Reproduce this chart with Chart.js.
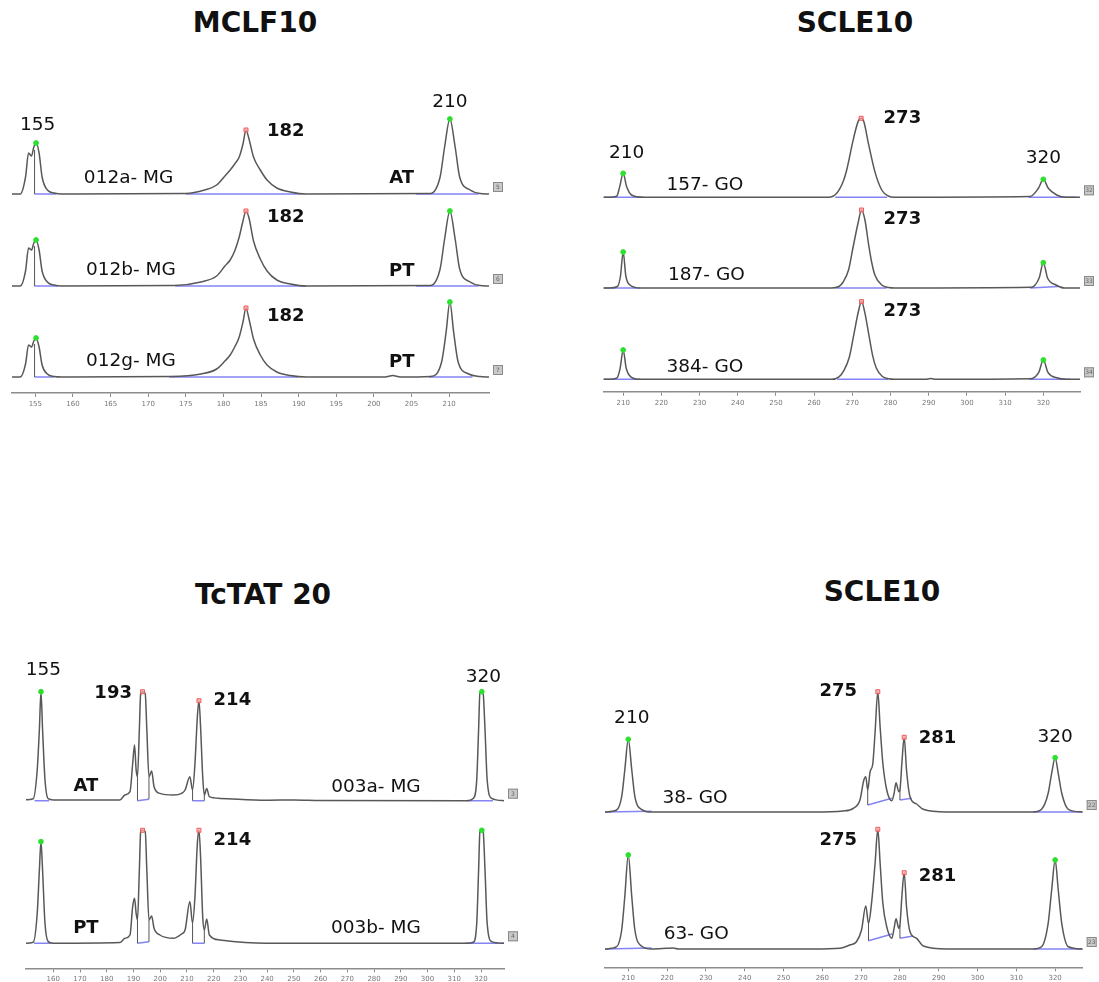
<!DOCTYPE html>
<html>
<head>
<meta charset="utf-8">
<script src="https://cdn.jsdelivr.net/npm/chart.js@4.4.1/dist/chart.umd.min.js"></script>
<style>
  body { margin: 0; background: #fff; width: 1099px; height: 982px; position: relative; overflow: hidden; }
  .title { position: absolute; font: bold 28px "DejaVu Sans", sans-serif; color: #111;
           transform: translate(-50%, -50%); white-space: nowrap; }
  canvas { position: absolute; }
</style>
</head>
<body>
<div class="title" style="left:255px;top:22px">MCLF10</div>
<div class="title" style="left:855px;top:22px">SCLE10</div>
<div class="title" style="left:263px;top:594px">TcTAT 20</div>
<div class="title" style="left:882px;top:591px">SCLE10</div>

<canvas id="p1" width="510" height="340" style="left:0;top:80px"></canvas>
<canvas id="p2" width="519" height="330" style="left:580px;top:90px"></canvas>
<canvas id="p3" width="520" height="352" style="left:0;top:630px"></canvas>
<canvas id="p4" width="519" height="352" style="left:580px;top:630px"></canvas>

<script>
// ---------------------------------------------------------------
// Données lues sur les électrophorégrammes (x = taille en pb, y = signal)

// MCLF10
const p1Ticks = [155, 160, 165, 170, 175, 180, 185, 190, 195, 200, 205, 210];
const p1Boxes = ['5', '6', '7'];
const p1a = [[151.9,0],[153.0,0],[153.7,17],[154.1,41],[154.5,38],[154.8,47],[155.1,51],[155.5,41],[155.9,17],[156.6,4],[157.5,1],[158.5,0],
  [175,0.5],[177.5,4],[179.1,9],[180.2,18],[180.9,24],[181.5,30],[182.1,37],[182.6,50],[183.0,64],[183.4,55],[184.0,37],[184.9,24],[185.8,14],[187.1,6],[188.9,2],[191,0],
  [207.5,0.5],[208.8,17],[209.4,47],[210.1,75],[210.8,47],[211.4,17],[212.8,4],[214.1,0.5],[215.3,0]];
const p1b = [[151.9,0],[153.0,0],[153.7,15],[154.1,38],[154.5,36],[154.8,43],[155.1,46],[155.5,36],[155.9,15],[156.6,4],[157.5,1],[158.5,0],
  [173.5,0.5],[177,4],[179.1,10],[180.2,20],[180.9,26],[181.5,35],[182.1,49],[182.6,65],[183.0,75],[183.4,68],[184.0,45],[184.9,27],[185.8,15],[187.1,6],[188.9,2],[191,0],
  [207.5,0.5],[208.8,17],[209.4,47],[210.1,75],[210.8,47],[211.4,17],[212.8,4],[214.1,0.5],[215.3,0]];
const p1g = [[151.9,0],[153.0,0],[153.7,13],[154.1,32],[154.5,30],[154.8,36],[155.1,39],[155.5,30],[155.9,12],[156.6,3],[157.5,0.5],[158.5,0],
  [173,0.5],[177,3],[179.1,8],[180.2,16],[180.9,22],[181.5,30],[182.1,40],[182.6,55],[183.0,69],[183.4,58],[184.0,38],[184.9,22],[185.8,12],[187.1,5],[188.9,1.5],[191,0],
  [201.5,0],[202.5,1.5],[203.5,0],[207.5,0.5],[209.0,15],[209.6,45],[210.1,75],[210.6,45],[211.2,15],[212.6,3],[214.1,0.5],[215.3,0]];
const p1aPeaks = [[155.1,51,'ref'],[183.0,64,'allele'],[210.1,75,'ref']];
const p1bPeaks = [[155.1,46,'ref'],[183.0,75,'allele'],[210.1,75,'ref']];
const p1gPeaks = [[155.1,39,'ref'],[183.0,69,'allele'],[210.1,75,'ref']];
const p1aBase = [[154.9,0,157.8,0],[175,0,190.3,0],[205.6,0,213.9,0]];
const p1bBase = [[154.9,0,158,0],[173.6,0,191,0],[205.6,0,213.9,0]];
const p1gBase = [[154.9,0,157.5,0],[172.8,0,189.9,0],[207.3,0,213.1,0]];
const p1aDrops = [[154.9,0,44]];
const p1bDrops = [[154.9,0,40]];
const p1gDrops = [[154.9,0,33]];
const p1Notes = [
  ['155', 155.3, 268, false], ['182', 188.3, 262, true], ['210', 210.1, 290.7, false],
  ['012a- MG', 167.4, 214.7, false], ['AT', 203.7, 214.7, true],
  ['182', 188.3, 175.7, true], ['012b- MG', 167.7, 123, false], ['PT', 203.7, 121.3, true],
  ['182', 188.3, 76.3, true], ['012g- MG', 167.7, 32, false], ['PT', 203.7, 30.3, true]
];

// SCLE10 (haut)
const p2Ticks = [210, 220, 230, 240, 250, 260, 270, 280, 290, 300, 310, 320];
const p2Boxes = ['32', '33', '34'];
const p2a = [[204.8,0],[206.5,0],[208.3,1],[209.1,10.7],[210,24],[210.9,10.7],[212.2,2.3],[215.2,0],
  [263.8,0],[265.9,4],[267.6,15.7],[268.5,27],[270.2,57],[271.5,75.7],[272.3,79],[273.0,75.7],[274.2,54],[275.9,25.7],[277.7,7.3],[279.4,1.3],[281,0],
  [316.5,0.7],[318.7,9],[320,18],[321.3,9],[323.5,2.3],[326,0],[329.6,0]];
const p2b = [[204.8,0],[206.5,0],[208.5,1.5],[209.3,12],[210,36],[210.7,12],[211.8,3],[214.5,0],
  [264.5,0],[266.5,1.5],[267.6,6],[269,18],[270.2,41],[271.5,65],[272.4,78],[273.3,68],[274.2,45],[275.1,25],[275.9,13],[277.7,3],[279.5,0.5],[281,0],
  [316.8,0.7],[318.9,10],[320,25.3],[321.1,10],[323.3,3],[325.5,0],[329.6,0]];
const p2c = [[204.8,0],[206.5,0],[208.4,1.5],[209.2,11],[210,29.3],[210.8,11],[212,2.5],[214.5,0],
  [264.5,0],[266.5,2.5],[267.8,9],[269.2,22],[270.4,45],[271.6,68],[272.4,77.7],[273.2,68],[274.3,45],[275.3,24],[276.3,11],[277.8,3],[279.5,0.5],[281,0],
  [289,0],[290.5,0.8],[292,0],[316.5,0.5],[318.8,7],[320,19.3],[321.2,7],[323.5,1.5],[326,0],[329.6,0]];
const p2aPeaks = [[210,24,'ref'],[272.3,79,'allele'],[320,18,'ref']];
const p2bPeaks = [[210,36,'ref'],[272.4,78,'allele'],[320,25.3,'ref']];
const p2cPeaks = [[210,29.3,'ref'],[272.4,77.7,'allele'],[320,19.3,'ref']];
const p2aBase = [[205,0,215.4,0],[265.5,0,279.1,0],[316.1,0,328.7,0]];
const p2bBase = [[205,0,214.5,0],[265.8,0,279,0],[316.5,0,323.9,1.5]];
const p2cBase = [[205,0,214.5,0],[266,0,279.4,0],[316.3,0,327,0]];
const p2Notes = [
  ['210', 210.9, 238.4, false], ['273', 283.1, 273.4, true], ['320', 320, 233.4, false],
  ['157- GO', 231.4, 206.7, false],
  ['273', 283.1, 172.4, true], ['187- GO', 231.8, 116.7, false],
  ['273', 283.1, 80, true], ['384- GO', 231.4, 25, false]
];

// TcTAT 20
const p3Ticks = [160, 170, 180, 190, 200, 210, 220, 230, 240, 250, 260, 270, 280, 290, 300, 310, 320];
const p3Boxes = ['3', '4'];
const p3a = [[149.8,1],[152.5,2],[154.0,31],[154.8,71],[155.4,109],[156.0,71],[156.9,21],[158.1,2],[160,0.7],
  [184.9,0.7],[186.8,5.7],[188.7,9],[189.7,37],[190.4,55.7],[191.0,30.7],[191.5,24],[192.2,71],[192.7,107],[193.4,109],[194.4,107],[195.0,71],[195.8,24],
  [196.8,29.7],[197.7,14],[199.9,7.3],[204.9,5.7],[208.0,7.3],[209.3,10.7],[211.1,24],[212.1,10.7],[213.0,37],[213.9,84],[214.5,100],[215.1,74],[215.9,24],
  [216.5,5.7],[217.4,12.3],[218.4,4],[222.3,2.3],[239.8,0.5],[250,0.8],[260,0.3],[314.6,0],
  [317.1,2.3],[318.4,21],[319.1,71],[319.6,108],[320.3,109],[320.8,107],[321.5,71],[322.3,21],[324.0,2.3],[328.6,0]];
const p3b = [[149.8,0],[152.5,1],[154.0,30],[154.8,73],[155.4,101.7],[156.0,73],[156.9,20],[158.1,1.7],[160,0],
  [184.9,0.7],[186.8,5],[188.7,8.3],[189.7,36.7],[190.4,45],[191.0,30],[191.5,23.3],[192.2,73],[192.7,111.7],[193.4,113],[194.4,111.7],[195.0,73],[195.8,23.3],
  [196.8,27.3],[197.7,15],[199.9,8.3],[204.9,5],[208.0,9.3],[209.3,13.3],[211.1,41.7],[212.1,20],[213.0,46.7],[213.9,100],[214.5,113],[215.1,86.7],[215.9,26.7],
  [216.5,13.3],[217.4,24.3],[218.4,8.3],[222.3,3.3],[239.8,0],[314.6,0],
  [317.1,1],[318.4,20],[319.1,73],[319.6,111.7],[320.3,113],[320.8,111.7],[321.5,73],[322.3,20],[324.0,1.7],[328.6,0]];
const p3aPeaks = [[155.4,109,'ref'],[193.4,109,'allele'],[214.5,100,'allele'],[320.3,109,'ref']];
const p3bPeaks = [[155.4,101.7,'ref'],[193.4,113,'allele'],[214.5,113,'allele'],[320.3,113,'ref']];
const p3aBase = [[153.0,0,158.5,0],[191.5,0,195.8,1.5],[212.1,0,216.5,0],[314.6,0,324.5,0]];
const p3bBase = [[152.8,0,158.7,0],[191.5,0,195.8,1.5],[212.1,0,216.5,0],[314,0,328.6,0]];
const p3aDrops = [[191.5,0,24],[195.8,1.5,24],[212.1,0,10.7],[216.5,0,5.7]];
const p3bDrops = [[191.5,0,23.3],[195.8,1.5,23.3],[212.1,0,20],[216.5,0,13.3]];
const p3Notes = [
  ['155', 156.3, 298.3, false], ['193', 182.4, 275, true], ['214', 227.0, 267.6, true], ['320', 320.9, 291.6, false],
  ['AT', 172.2, 181.6, true], ['003a- MG', 280.7, 181.6, false],
  ['214', 227.0, 128.3, true], ['PT', 172.2, 40, true], ['003b- MG', 280.7, 40, false]
];

// SCLE10 (bas)
const p4Ticks = [210, 220, 230, 240, 250, 260, 270, 280, 290, 300, 310, 320];
const p4Boxes = ['22', '23'];
const p4a = [[204.0,0],[207.0,2],[208.3,15.3],[209.1,42],[210,72.7],[210.9,42],[211.7,15.3],[213.4,2.7],[216,0],
  [257.7,0],[265.4,1],[268.0,3.7],[269.7,12],[270.7,32],[271.2,35.3],[271.7,22],[272.3,40],[273.0,48],[273.6,80],[274.3,120.3],[274.9,85],[275.6,48.7],
  [276.6,22],[277.9,11.3],[278.5,18.7],[279.0,29.3],[279.7,20.3],[280.0,22],[280.5,48.7],[281.1,74.7],[281.7,42],[282.6,15.3],[284.3,8],[286.0,2.7],[292,0],
  [314.4,0],[316.5,2.7],[318.2,18.7],[319.1,38.7],[320,54.3],[320.8,38.7],[321.7,18.7],[323.4,2.7],[327.1,0]];
const p4b = [[204.0,0],[207.0,2.3],[208.3,19],[209.1,52.3],[210,94],[210.9,52.3],[211.7,19],[213.4,3],[216,0],[220,0.7],[221.5,1],[223,0],
  [257.7,0],[264.6,0.7],[267.1,4],[268.8,7.3],[270.1,19],[271.2,43],[271.9,25.7],[272.7,46.3],[273.6,85.7],[274.3,119.7],[274.9,85.7],[275.6,45.7],
  [276.6,22.3],[277.9,10.7],[278.5,20.7],[279.0,30.3],[279.7,20.7],[280.0,24],[280.5,52.3],[281.1,76.3],[281.7,42.3],[282.6,17.3],[284.3,10.7],[286.0,3],[292,0],
  [314.4,0],[316.5,2.3],[318.2,25.7],[319.1,59],[320,89],[320.8,59],[321.7,25.7],[323.4,2.3],[327.1,0]];
const p4aPeaks = [[210,72.7,'ref'],[274.3,120.3,'allele'],[281.1,74.7,'allele'],[320,54.3,'ref']];
const p4bPeaks = [[210,94,'ref'],[274.3,119.7,'allele'],[281.1,76.3,'allele'],[320,89,'ref']];
const p4aBase = [[204,0,216,0.7],[271.7,7,277.9,13.7],[280.0,12,283.0,13.7],[314.4,0,327.1,0]];
const p4bBase = [[204,0,216,1],[271.9,8.3,278.0,15],[280.0,10.7,283.4,13],[314.4,0,327.1,0]];
const p4aDrops = [[271.7,7,22],[280.0,12,22]];
const p4bDrops = [[271.9,8.3,25.7],[280.0,10.7,24]];
const p4Notes = [
  ['210', 210.9, 249, false], ['275', 264.1, 275.6, true], ['281', 289.7, 229, true], ['320', 320, 230, false],
  ['38- GO', 227.2, 169, false],
  ['275', 264.1, 127.3, true], ['281', 289.7, 90.6, true], ['63- GO', 227.5, 33.3, false]
];

// ---------------------------------------------------------------
const FONT = '"DejaVu Sans", Verdana, sans-serif';

// textes (tailles, noms d'échantillons) et petites cases numérotées
function annotations(notes, boxes, offsets) {
  return {
    id: 'annotations',
    afterDraw(chart) {
      const { ctx, scales: { x, y }, chartArea } = chart;
      ctx.save();
      ctx.textAlign = 'center';
      ctx.textBaseline = 'middle';
      notes.forEach(([txt, px, py, bold]) => {
        ctx.fillStyle = '#111';
        ctx.font = (bold ? 'bold 18px ' : '18.5px ') + FONT;
        ctx.fillText(txt, x.getPixelForValue(px), y.getPixelForValue(py));
      });
      boxes.forEach((b, i) => {
        const bx = chartArea.right + 4, by = y.getPixelForValue(offsets[i]) - 12;
        ctx.fillStyle = '#c9c9c9';
        ctx.fillRect(bx, by, 10, 10);
        ctx.strokeStyle = '#8a8a8a';
        ctx.lineWidth = 1;
        ctx.strokeRect(bx + 0.5, by + 0.5, 9, 9);
        ctx.fillStyle = '#666';
        ctx.font = '6px ' + FONT;
        ctx.fillText(b, bx + 5, by + 5.5);
      });
      ctx.restore();
    }
  };
}

function buildPanel(id, cfg) {
  const canvas = document.getElementById(id);
  const yMax = canvas.height - cfg.pad.top - cfg.pad.bottom - cfg.axisH;
  const datasets = [];

  cfg.traces.forEach((t, i) => {
    const off = cfg.offsets[i];

    // lignes de base bleues sous les pics
    const basePts = [];
    t.base.forEach(b => {
      basePts.push({ x: b[0], y: b[1] + off }, { x: b[2], y: b[3] + off }, { x: b[2] + 0.01, y: null });
    });
    datasets.push({ data: basePts, borderColor: '#8484f4', borderWidth: 1.5, pointRadius: 0, spanGaps: false, order: 3 });

    // traits verticaux de séparation
    const dropPts = [];
    (t.drops || []).forEach(d => {
      dropPts.push({ x: d[0], y: d[1] + off }, { x: d[0], y: d[2] + off }, { x: d[0] + 0.01, y: null });
    });
    if (dropPts.length) {
      datasets.push({ data: dropPts, borderColor: '#555', borderWidth: 1, pointRadius: 0, spanGaps: false, order: 2 });
    }

    // le signal
    datasets.push({
      data: t.pts.map(p => ({ x: p[0], y: p[1] + off })),
      borderColor: '#585858', borderWidth: 1.5, pointRadius: 0,
      cubicInterpolationMode: 'monotone', order: 1
    });

    // marqueurs des pics
    datasets.push({
      data: t.peaks.map(p => ({ x: p[0], y: p[1] + off })),
      showLine: false,
      pointStyle: t.peaks.map(p => p[2] === 'ref' ? 'circle' : 'rect'),
      pointRadius: t.peaks.map(p => p[2] === 'ref' ? 2.4 : 2.8),
      pointBackgroundColor: t.peaks.map(p => p[2] === 'ref' ? '#2ee02e' : 'rgba(255,170,170,0.7)'),
      pointBorderColor: t.peaks.map(p => p[2] === 'ref' ? '#2ee02e' : '#ef5a5a'),
      pointBorderWidth: 1,
      order: 0
    });
  });

  return new Chart(canvas, {
    type: 'line',
    data: { datasets },
    options: {
      responsive: false,
      animation: false,
      events: [],
      layout: { padding: cfg.pad },
      plugins: { legend: { display: false }, tooltip: { enabled: false } },
      scales: {
        x: {
          type: 'linear',
          min: cfg.xMin,
          max: cfg.xMax,
          afterBuildTicks: s => { s.ticks = cfg.ticks.map(v => ({ value: v })); },
          afterFit: s => { s.height = cfg.axisH; },
          grid: { drawOnChartArea: false, drawTicks: true, tickLength: 4, color: '#888', lineWidth: 1 },
          border: { display: true, color: '#8c8c8c', width: 1.6 },
          ticks: { font: { size: 7, family: FONT }, color: '#777', padding: 3, maxRotation: 0, autoSkip: false }
        },
        y: { display: false, min: 0, max: yMax }
      }
    },
    plugins: [annotations(cfg.notes, cfg.boxes, cfg.offsets)]
  });
}

buildPanel('p1', {
  xMin: 151.9, xMax: 215.3, ticks: p1Ticks, axisH: 20,
  pad: { left: 12, right: 21, top: 10, bottom: 7 },
  offsets: [199, 107, 16],
  traces: [
    { pts: p1a, peaks: p1aPeaks, base: p1aBase, drops: p1aDrops },
    { pts: p1b, peaks: p1bPeaks, base: p1bBase, drops: p1bDrops },
    { pts: p1g, peaks: p1gPeaks, base: p1gBase, drops: p1gDrops }
  ],
  notes: p1Notes, boxes: p1Boxes
});

buildPanel('p2', {
  xMin: 204.8, xMax: 329.6, ticks: p2Ticks, axisH: 20,
  pad: { left: 23.3, right: 19, top: 10, bottom: 8.3 },
  offsets: [194.4, 103.7, 12.4],
  traces: [
    { pts: p2a, peaks: p2aPeaks, base: p2aBase },
    { pts: p2b, peaks: p2bPeaks, base: p2bBase },
    { pts: p2c, peaks: p2cPeaks, base: p2cBase }
  ],
  notes: p2Notes, boxes: p2Boxes
});

buildPanel('p3', {
  xMin: 149.8, xMax: 328.6, ticks: p3Ticks, axisH: 13.7,
  pad: { left: 26, right: 16, top: 20, bottom: 0 },
  offsets: [167.6, 25],
  traces: [
    { pts: p3a, peaks: p3aPeaks, base: p3aBase, drops: p3aDrops },
    { pts: p3b, peaks: p3bPeaks, base: p3bBase, drops: p3bDrops }
  ],
  notes: p3Notes, boxes: p3Boxes
});

buildPanel('p4', {
  xMin: 204.0, xMax: 327.1, ticks: p4Ticks, axisH: 14.7,
  pad: { left: 25, right: 16.3, top: 20, bottom: 0 },
  offsets: [155.3, 18.3],
  traces: [
    { pts: p4a, peaks: p4aPeaks, base: p4aBase, drops: p4aDrops },
    { pts: p4b, peaks: p4bPeaks, base: p4bBase, drops: p4bDrops }
  ],
  notes: p4Notes, boxes: p4Boxes
});
</script>
</body>
</html>
